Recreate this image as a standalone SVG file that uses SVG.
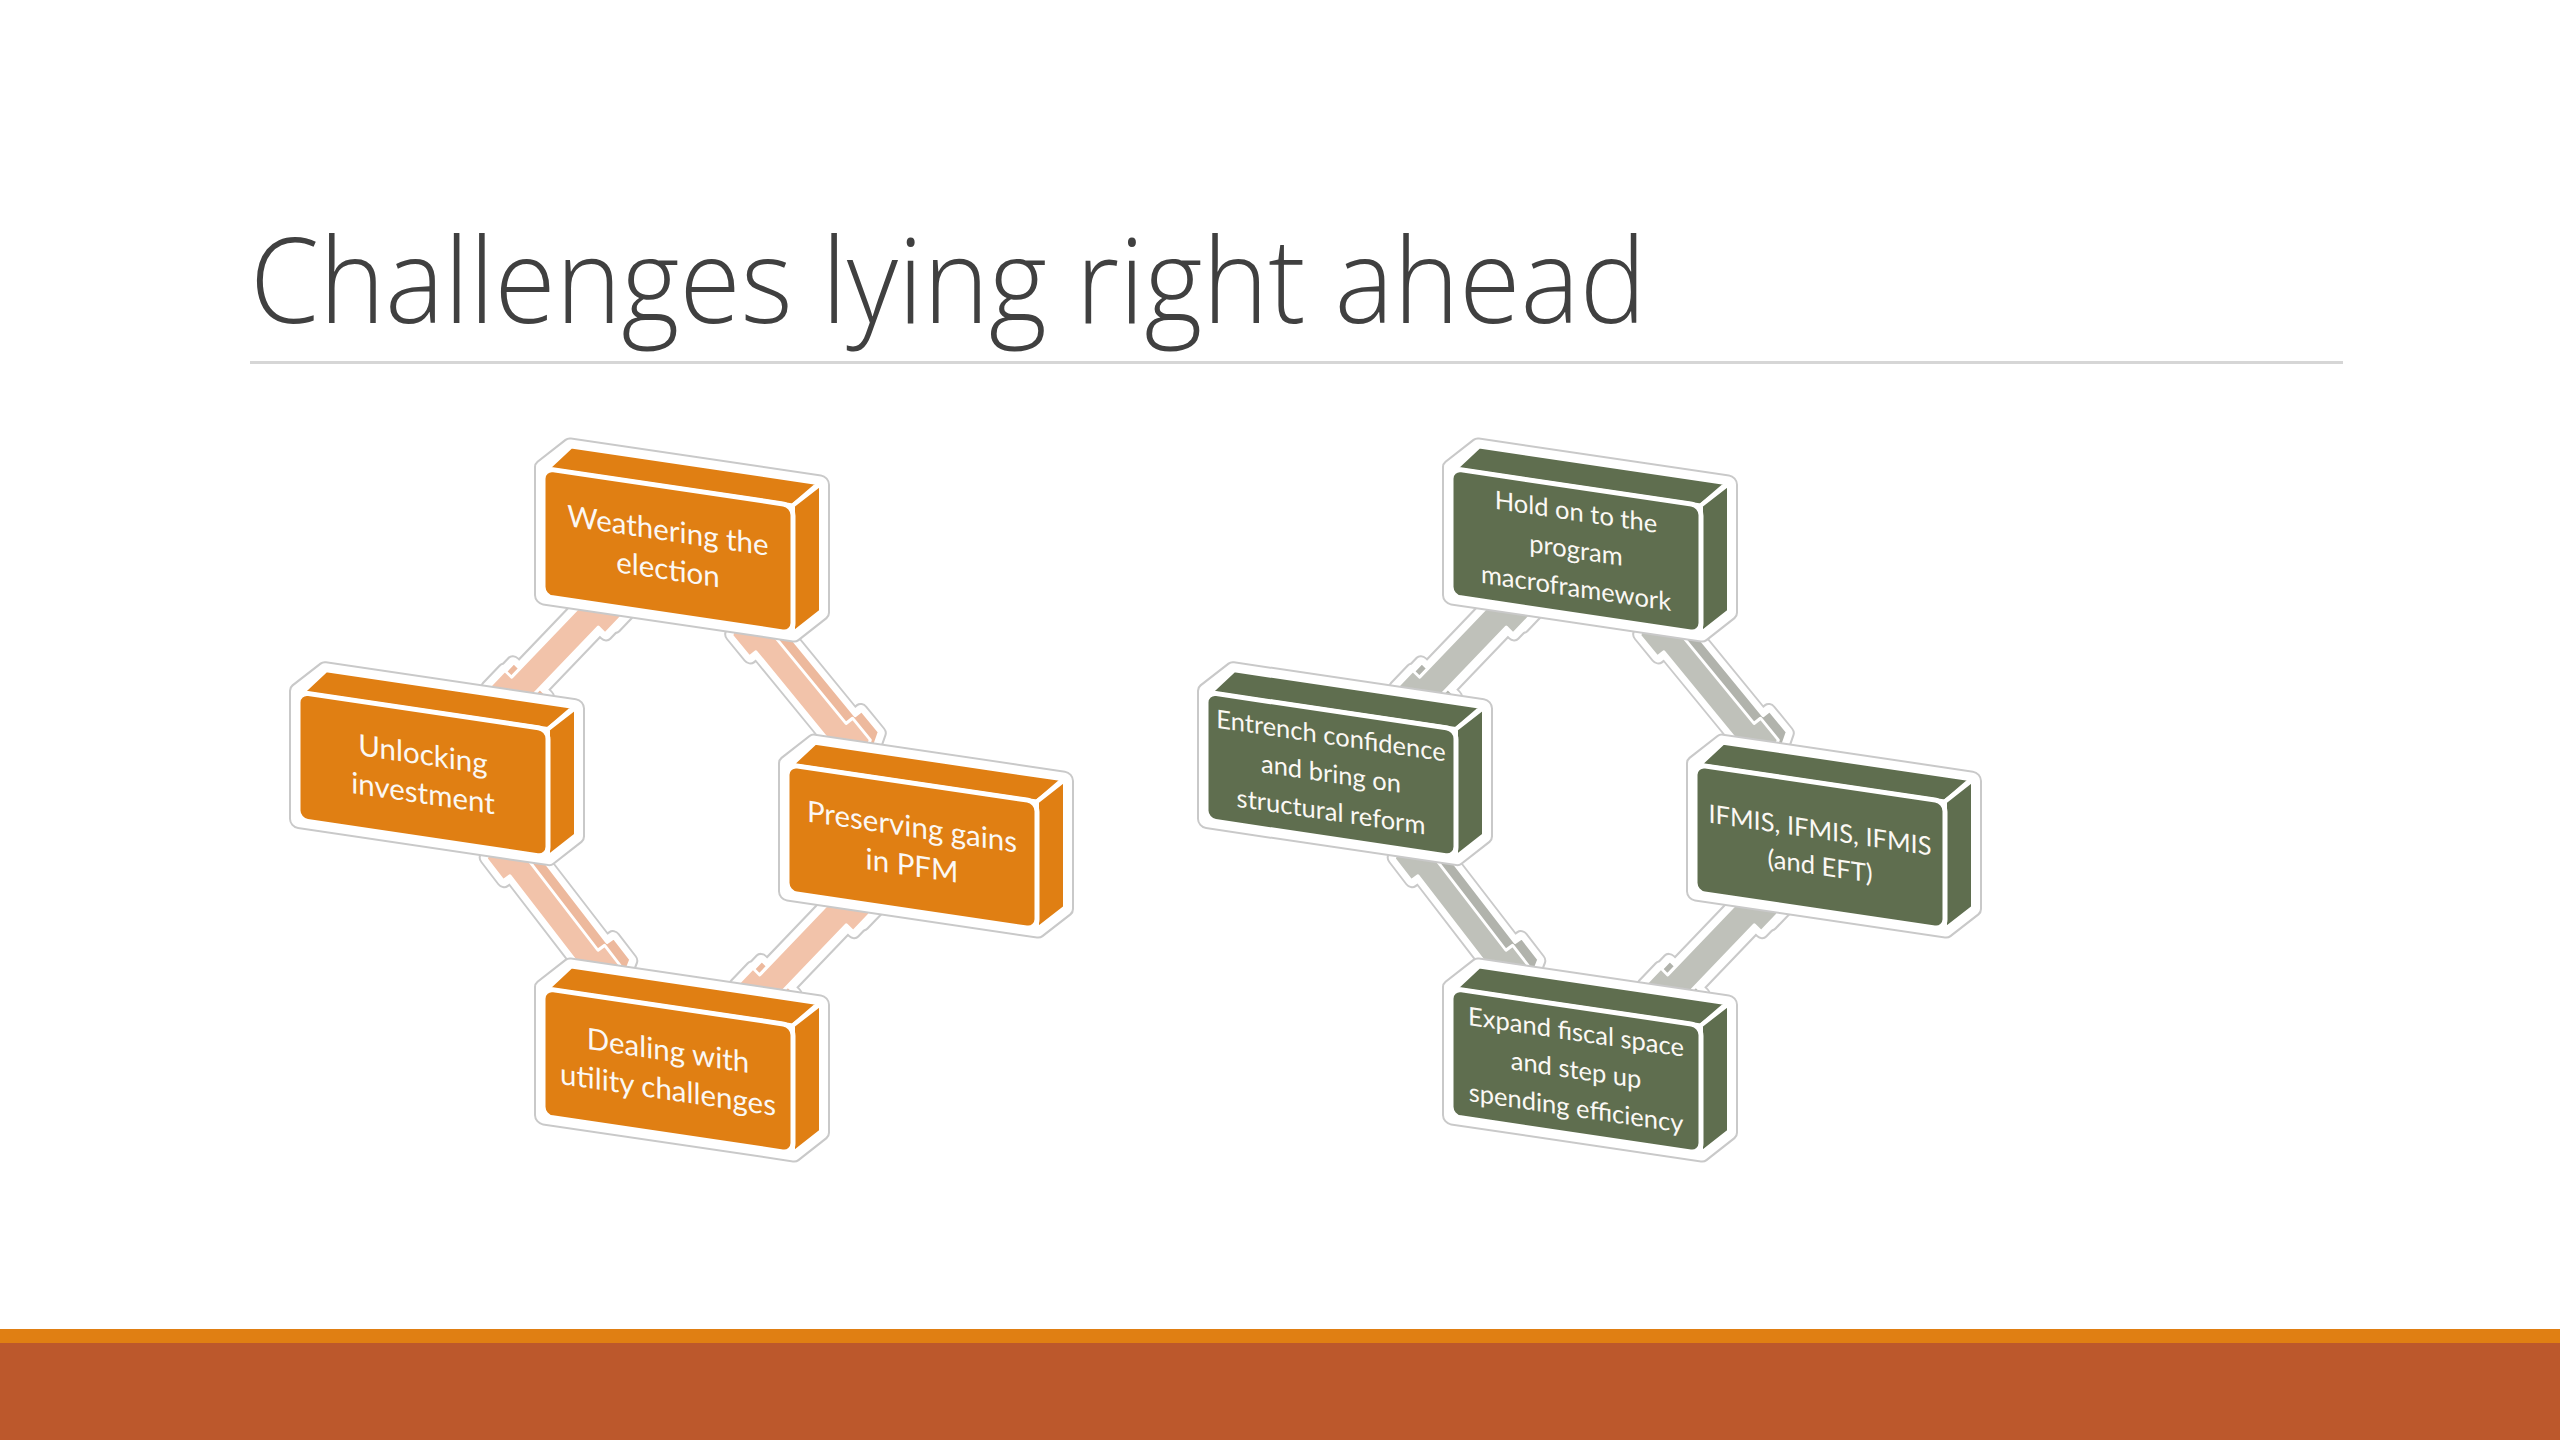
<svg xmlns="http://www.w3.org/2000/svg" width="2560" height="1440" viewBox="0 0 2560 1440">
<defs>
<style>
.title{font-family:"Open Sans","Liberation Sans",sans-serif;font-weight:300;font-size:118px;fill:#404040}
.lbl{font-family:Lato,"Open Sans","Liberation Sans",sans-serif;fill:#FBF8F4;text-anchor:middle}
.lo{font-size:29.5px}
.lg{font-size:25.5px}
.sil1{fill:#fff;stroke:#C9C9C9;stroke-width:18;stroke-linejoin:round}
.sil2{fill:#fff;stroke:#fff;stroke-width:14;stroke-linejoin:round}
.ao1{fill:#fff;stroke:#CACACA;stroke-width:15;stroke-linejoin:round}
.ao2{fill:#fff;stroke:#fff;stroke-width:11;stroke-linejoin:round}
.asO{fill:#EDB99D;stroke:#fff;stroke-width:3;stroke-linejoin:round}
.afO{fill:#F2C3AA;stroke:#fff;stroke-width:3;stroke-linejoin:round}
.asG{fill:#B1B3AC;stroke:#fff;stroke-width:3;stroke-linejoin:round}
.afG{fill:#BFC1BA;stroke:#fff;stroke-width:3;stroke-linejoin:round}
.orange{fill:#E07F13}
.green{fill:#5F6E4F}
</style>
<polygon id="arr" points="-90,0 -78,-22 -52,-22 -52,-13 52,-13 52,-22 78,-22 90,0 78,22 52,22 52,13 -52,13 -52,22 -78,22"/>
<polygon id="sil" points="0,0 28,-26 278,-26 278,102 250,128 0,128"/>
<g id="faces" stroke="#fff" stroke-width="4" stroke-linejoin="round">
<polygon points="4,0 28,-26 276,-26 250,0"/>
<polygon points="250,0 278,-26 278,102 250,128"/>
<rect x="0" y="0" width="250" height="128" rx="10" stroke-width="5"/>
</g>
</defs>
<rect x="0" y="0" width="2560" height="1440" fill="#fff"/>
<text class="title" x="250" y="323" textLength="1396" lengthAdjust="spacingAndGlyphs">Challenges lying right ahead</text>
<rect x="250" y="361" width="2093" height="3" fill="#D6D6D6"/>
<rect x="0" y="1329" width="2560" height="15" fill="#E07F13"/>
<rect x="0" y="1343" width="2560" height="97" fill="#BC582C"/>

<g id="left-cycle" transform="skewY(8.42)">
<g id="connectors-left">
<g transform="translate(555,570)"><use href="#arr" class="ao1" transform="translate(9,-9) rotate(130)"/><use href="#arr" class="ao1" transform="rotate(130)"/><use href="#arr" class="ao2" transform="translate(9,-9) rotate(130)"/><use href="#arr" class="ao2" transform="rotate(130)"/><use href="#arr" class="asO" transform="translate(9,-9) rotate(130)"/><use href="#arr" class="afO" transform="rotate(130)"/></g>
<g transform="translate(801,569)"><use href="#arr" class="ao1" transform="translate(9,-9) rotate(47)"/><use href="#arr" class="ao1" transform="rotate(47)"/><use href="#arr" class="ao2" transform="translate(9,-9) rotate(47)"/><use href="#arr" class="ao2" transform="rotate(47)"/><use href="#arr" class="asO" transform="translate(9,-9) rotate(47)"/><use href="#arr" class="afO" transform="rotate(47)"/></g>
<g transform="translate(554,831)"><use href="#arr" class="ao1" transform="translate(9,-9) rotate(49)"/><use href="#arr" class="ao1" transform="rotate(49)"/><use href="#arr" class="ao2" transform="translate(9,-9) rotate(49)"/><use href="#arr" class="ao2" transform="rotate(49)"/><use href="#arr" class="asO" transform="translate(9,-9) rotate(49)"/><use href="#arr" class="afO" transform="rotate(49)"/></g>
<g transform="translate(803,831)"><use href="#arr" class="ao1" transform="translate(9,-9) rotate(130)"/><use href="#arr" class="ao1" transform="rotate(130)"/><use href="#arr" class="ao2" transform="translate(9,-9) rotate(130)"/><use href="#arr" class="ao2" transform="rotate(130)"/><use href="#arr" class="asO" transform="translate(9,-9) rotate(130)"/><use href="#arr" class="afO" transform="rotate(130)"/></g>
</g>
<g id="n-weathering" transform="translate(543,388)"><use href="#sil" class="sil1"/><use href="#sil" class="sil2"/><use href="#faces" class="orange"/>
<text class="lbl lo"><tspan x="125" y="54">Weathering the</tspan><tspan x="125" y="93">election</tspan></text></g>
<g id="n-unlocking" transform="translate(298,648)"><use href="#sil" class="sil1"/><use href="#sil" class="sil2"/><use href="#faces" class="orange"/>
<text class="lbl lo"><tspan x="125" y="54">Unlocking</tspan><tspan x="125" y="93">investment</tspan></text></g>
<g id="n-preserving" transform="translate(787,648)"><use href="#sil" class="sil1"/><use href="#sil" class="sil2"/><use href="#faces" class="orange"/>
<text class="lbl lo"><tspan x="125" y="54">Preserving gains</tspan><tspan x="125" y="93">in PFM</tspan></text></g>
<g id="n-dealing" transform="translate(543,908)"><use href="#sil" class="sil1"/><use href="#sil" class="sil2"/><use href="#faces" class="orange"/>
<text class="lbl lo"><tspan x="125" y="54">Dealing with</tspan><tspan x="125" y="93">utility challenges</tspan></text></g>
</g>

<g id="right-cycle" transform="translate(908,0) skewY(8.42)">
<g id="connectors-right">
<g transform="translate(555,570)"><use href="#arr" class="ao1" transform="translate(9,-9) rotate(130)"/><use href="#arr" class="ao1" transform="rotate(130)"/><use href="#arr" class="ao2" transform="translate(9,-9) rotate(130)"/><use href="#arr" class="ao2" transform="rotate(130)"/><use href="#arr" class="asG" transform="translate(9,-9) rotate(130)"/><use href="#arr" class="afG" transform="rotate(130)"/></g>
<g transform="translate(801,569)"><use href="#arr" class="ao1" transform="translate(9,-9) rotate(47)"/><use href="#arr" class="ao1" transform="rotate(47)"/><use href="#arr" class="ao2" transform="translate(9,-9) rotate(47)"/><use href="#arr" class="ao2" transform="rotate(47)"/><use href="#arr" class="asG" transform="translate(9,-9) rotate(47)"/><use href="#arr" class="afG" transform="rotate(47)"/></g>
<g transform="translate(554,831)"><use href="#arr" class="ao1" transform="translate(9,-9) rotate(49)"/><use href="#arr" class="ao1" transform="rotate(49)"/><use href="#arr" class="ao2" transform="translate(9,-9) rotate(49)"/><use href="#arr" class="ao2" transform="rotate(49)"/><use href="#arr" class="asG" transform="translate(9,-9) rotate(49)"/><use href="#arr" class="afG" transform="rotate(49)"/></g>
<g transform="translate(803,831)"><use href="#arr" class="ao1" transform="translate(9,-9) rotate(130)"/><use href="#arr" class="ao1" transform="rotate(130)"/><use href="#arr" class="ao2" transform="translate(9,-9) rotate(130)"/><use href="#arr" class="ao2" transform="rotate(130)"/><use href="#arr" class="asG" transform="translate(9,-9) rotate(130)"/><use href="#arr" class="afG" transform="rotate(130)"/></g>
</g>
<g id="n-holdon" transform="translate(543,388)"><use href="#sil" class="sil1"/><use href="#sil" class="sil2"/><use href="#faces" class="green"/>
<text class="lbl lg"><tspan x="125" y="34">Hold on to the</tspan><tspan x="125" y="72">program</tspan><tspan x="125" y="110">macroframework</tspan></text></g>
<g id="n-entrench" transform="translate(298,648)"><use href="#sil" class="sil1"/><use href="#sil" class="sil2"/><use href="#faces" class="green"/>
<text class="lbl lg"><tspan x="125" y="34">Entrench confidence</tspan><tspan x="125" y="72">and bring on</tspan><tspan x="125" y="110">structural reform</tspan></text></g>
<g id="n-ifmis" transform="translate(787,648)"><use href="#sil" class="sil1"/><use href="#sil" class="sil2"/><use href="#faces" class="green"/>
<text class="lbl lg"><tspan x="125" y="56">IFMIS, IFMIS, IFMIS</tspan><tspan x="125" y="92">(and EFT)</tspan></text></g>
<g id="n-expand" transform="translate(543,908)"><use href="#sil" class="sil1"/><use href="#sil" class="sil2"/><use href="#faces" class="green"/>
<text class="lbl lg"><tspan x="125" y="34">Expand fiscal space</tspan><tspan x="125" y="72">and step up</tspan><tspan x="125" y="110">spending efficiency</tspan></text></g>
</g>
</svg>
